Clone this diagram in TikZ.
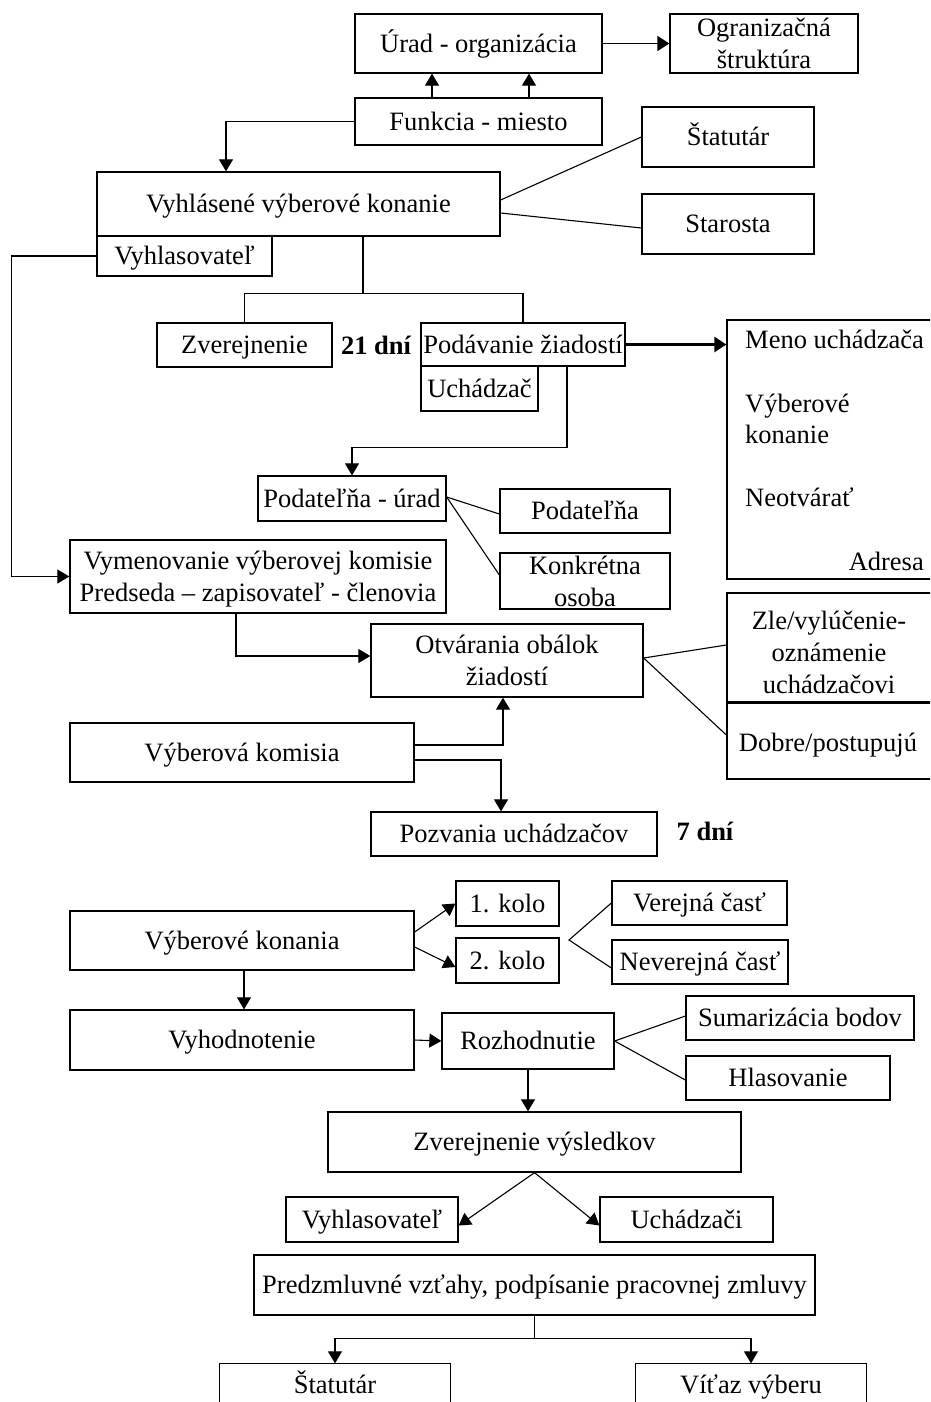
\documentclass[tikz,border=0pt]{standalone}
\usepackage{fontspec}
\setmainfont{Liberation Serif}
\usetikzlibrary{arrows.meta,calc}
\tikzset{
  box/.style={draw, line width=1.3pt, inner sep=0pt, align=center, text depth=0pt},
  sbox/.style={box, text height=17.5pt},
  lbl/.style={inner sep=0pt, align=left},
  conn/.style={line width=1.1pt},
  arr/.style={conn, -{Triangle[length=12pt,width=14pt]}},
  bigarr/.style={line width=2.6pt, -{Triangle[length=12pt,width=15pt]}},
  boldlbl/.style={inner sep=0pt, font=\fontsize{26.5}{32}\selectfont\bfseries},
}
\newcommand{\bx}[6]{\node[sbox, minimum width=#4pt, minimum height=#5pt] (#1) at (#2,#3) {#6};}
\newcommand{\mbx}[6]{\node[box, minimum width=#4pt, minimum height=#5pt] (#1) at (#2,#3) {#6};}
\begin{document}
\begin{tikzpicture}[x=1pt,y=-1pt,font=\fontsize{26.5}{32}\selectfont]
\fill[white] (0,0) rectangle (930,1402);
\clip (0,0) rectangle (930,1402);
% --- top part ---
\bx{urad}{478.5}{43.5}{247}{59}{Úrad - organizácia}
\mbx{ogr}{764}{43.5}{188}{59}{Ogranizačná\\štruktúra}
\bx{funk}{478.5}{121.5}{247}{47}{Funkcia - miesto}
\bx{statA}{728}{137}{172}{60}{Štatutár}
\bx{staro}{728}{224}{172}{60}{Starosta}
\bx{vyk}{298.5}{204}{403}{64}{Vyhlásené výberové konanie}
\bx{vyhl}{184.5}{256}{175}{40}{Vyhlasovateľ}
\bx{zver}{244.5}{345}{175}{44}{Zverejnenie}
\node[boldlbl, text height=17.5pt, text depth=0pt] (d21) at (376,346) {21 dní};
\bx{poda}{523}{344.5}{204}{43}{Podávanie žiadostí}
\bx{uch}{479.5}{388.5}{117}{45}{Uchádzač}
\node[box, minimum width=213pt, minimum height=259pt] (meno) at (833.5,449.5) {};
\node[lbl, anchor=base west] (m1) at (745,348) {Meno uchádzača};
\node[lbl, anchor=base west] (m2) at (745,412) {Výberové};
\node[lbl, anchor=base west] (m2b) at (745,443) {konanie};
\node[lbl, anchor=base west] (m3) at (745,506) {Neotvárať};
\node[lbl, anchor=base east] (m4) at (924,570) {Adresa};
\bx{podu}{352}{498.5}{188}{45}{Podateľňa - úrad}
\bx{podl}{585}{511}{170}{44}{Podateľňa}
\mbx{konk}{585}{581}{170}{56}{Konkrétna\\osoba}
\mbx{vym}{258}{576.5}{376}{73}{Vymenovanie výberovej komisie\\Predseda – zapisovateľ - členovia}
\mbx{otv}{507}{660.5}{272}{73}{Otvárania obálok\\žiadostí}
\node[box, minimum width=213pt, minimum height=186pt] (zle) at (833.5,686) {};
\draw[line width=2.6pt] ([yshift=-110pt]zle.north west) -- ([yshift=-110pt]zle.north east);
\node[lbl, align=center, text depth=0pt] (z1) at (829,652) {Zle/vylúčenie-\\oznámenie\\uchádzačovi};
\node[lbl, text height=17.5pt, text depth=0pt] (z2) at (828,743) {Dobre/postupujú};
\bx{vk}{242}{752.5}{344}{59}{Výberová komisia}
\bx{poz}{514}{834}{286}{44}{Pozvania uchádzačov}
\node[boldlbl, text height=17.5pt, text depth=0pt] (d7) at (705,832) {7 dní};
% --- lower part ---
\bx{vkon}{242}{940.5}{344}{59}{Výberové konania}
\bx{kA}{507.5}{903.5}{103}{45}{1. kolo}
\bx{kB}{507.5}{960.5}{103}{45}{2. kolo}
\bx{ver}{699.5}{903}{175}{44}{Verejná časť}
\bx{never}{700}{962}{176}{44}{Neverejná časť}
\bx{vyh}{242}{1040}{344}{60}{Vyhodnotenie}
\bx{roz}{528}{1041}{172}{56}{Rozhodnutie}
\bx{sum}{800}{1018}{228}{44}{Sumarizácia bodov}
\bx{hla}{788}{1078}{204}{44}{Hlasovanie}
\bx{zvv}{534.5}{1142}{413}{60}{Zverejnenie výsledkov}
\bx{vyhlB}{372}{1219.5}{172}{45}{Vyhlasovateľ}
\bx{uchi}{686.5}{1219.5}{173}{45}{Uchádzači}
\bx{pred}{534.5}{1285}{561}{60}{Predzmluvné vzťahy, podpísanie pracovnej zmluvy}
\node[sbox, draw=none, minimum width=230pt, minimum height=42pt] (statB) at (335,1385) {Štatutár};
\node[sbox, draw=none, minimum width=230pt, minimum height=42pt] (vit) at (751,1385) {Víťaz výberu};
\draw[line width=1.3pt] (statB.south west) -- (statB.north west) -- (statB.north east) -- (statB.south east);
\draw[line width=1.3pt] (vit.south west) -- (vit.north west) -- (vit.north east) -- (vit.south east);
% --- connectors ---
\draw[bigarr, line width=1.9pt] (urad.east) -- (ogr.west);
\draw[arr] ([xshift=-46.5pt]funk.north) -- ([xshift=-46.5pt]urad.south);
\draw[arr] ([xshift=50.5pt]funk.north) -- ([xshift=50.5pt]urad.south);
\draw[arr] (funk.west) -| ([xshift=-72.5pt]vyk.north);
\draw[conn] ([yshift=4pt]vyk.east) -- (statA.west);
\draw[conn] ([yshift=-9pt]vyk.east) -- ([yshift=-4pt]staro.west);
\draw[arr] (vyhl.west) -- ++(-85,0) |- (vym.west);
\draw[conn] ([xshift=64.5pt]vyk.south) -- ++(0,57) coordinate (jA);
\draw[conn] (zver.north) |- (jA) -| (poda.north);
\draw[bigarr] (poda.east) -- (poda.east -| meno.west);
\draw[arr] ([xshift=44pt]poda.south) -- ++(0,81) -| (podu.north);
\draw[conn] ([yshift=1.5pt]podu.east) -- ([yshift=-3pt]podl.west);
\draw[conn] ([yshift=1.5pt]podu.east) -- ([yshift=6pt]konk.west);
\draw[arr] ([xshift=-22pt]vym.south) |- ([yshift=4.5pt]otv.west);
\draw[conn] ([yshift=2.5pt]otv.east) -- ([yshift=41pt]zle.west);
\draw[conn] ([yshift=2.5pt]otv.east) -- ([yshift=-49pt]zle.west);
\draw[arr] ([yshift=7.5pt]vk.east) -| ([xshift=-4pt]otv.south);
\draw[arr] ([yshift=-7.5pt]vk.east) -| ([xshift=-13pt]poz.north);
\draw[arr] ([yshift=8.5pt]vkon.east) -- (kA.west);
\draw[arr] ([yshift=-6.5pt]vkon.east) -- ([yshift=-6.5pt]kB.west);
\coordinate (vp) at (569,940);
\draw[conn] (ver.west) -- (vp) -- ([yshift=-6pt]never.west);
\draw[arr] ([xshift=2pt]vkon.south) -- ([xshift=2pt]vyh.north);
\draw[arr] (vyh.east) -- (roz.west);
\draw[conn] (roz.east) -- ([yshift=2pt]sum.west);
\draw[conn] (roz.east) -- ([yshift=-2pt]hla.west);
\draw[arr] (roz.south) -- (roz.south |- zvv.north);
\draw[arr] (zvv.south) -- ([yshift=-6pt]vyhlB.east);
\draw[arr] (zvv.south) -- ([yshift=-6pt]uchi.west);
\draw[conn] (pred.south) -- ++(0,23) coordinate (jB);
\draw[arr] (jB) -| (statB.north);
\draw[arr] (jB) -| (vit.north);
\end{tikzpicture}
\end{document}
